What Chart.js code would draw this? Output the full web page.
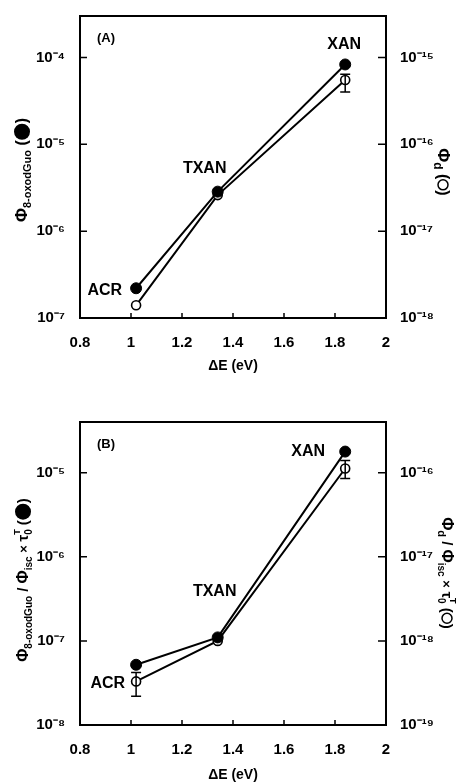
<!DOCTYPE html>
<html><head><meta charset="utf-8">
<script src="https://cdn.jsdelivr.net/npm/chart.js@4/dist/chart.umd.min.js"></script>
<style>
html,body{margin:0;padding:0;background:#fff;}
#wrap{width:457px;height:782px;position:relative;overflow:hidden;}
.c{position:absolute;left:0;width:457px;}
</style></head><body>
<div id="wrap">
<div class="c" style="top:0;height:390px"><canvas id="ca"></canvas></div>
<div class="c" style="top:390px;height:392px"><canvas id="cb"></canvas></div>
</div>
<script>
// ---- data ----
const compounds = ['ACR', 'TXAN', 'XAN'];
const deltaE = [1.02, 1.34, 1.84];
// Panel A
const a_oxodGuo = [2.2e-7, 2.85e-6, 8.3e-5];
const a_phiD = [1.4e-18, 2.6e-17, 5.5e-16];
const a_phiD_errLow = [null, null, 4.0e-16];
const a_phiD_errHigh = [null, null, 6.4e-16];
// Panel B
const b_oxodGuo = [5.2e-8, 1.1e-7, 1.78e-5];
const b_phiD = [3.3e-19, 1.0e-18, 1.12e-16];
const b_phiD_errLow = [2.2e-19, null, 8.5e-17];
const b_phiD_errHigh = [4.2e-19, null, 1.39e-16];
// ticks
const xTicks = [0.8, 1, 1.2, 1.4, 1.6, 1.8, 2];
const a_leftTicks = [1e-7, 1e-6, 1e-5, 1e-4];
const a_rightTicks = [1e-18, 1e-17, 1e-16, 1e-15];
const b_leftTicks = [1e-8, 1e-7, 1e-6, 1e-5];
const b_rightTicks = [1e-19, 1e-18, 1e-17, 1e-16];

const FAM = '"Liberation Sans", Arial, Helvetica, sans-serif';
const SUP = {'-':'\u207B','0':'\u2070','1':'\u00B9','2':'\u00B2','3':'\u00B3','4':'\u2074','5':'\u2075','6':'\u2076','7':'\u2077','8':'\u2078','9':'\u2079'};
function powLabel(v){
  const e = Math.round(Math.log10(v));
  return '10' + String(e).split('').map(c => SUP[c]).join('');
}

function drawRich(ctx, cx, cy, rot, segs){
  ctx.save();
  ctx.translate(cx, cy);
  ctx.rotate(rot);
  let total = 0;
  segs.forEach(s => {
    if (s.dot) { s._w = s.dot * 2 + 1; }
    else { ctx.font = 'bold ' + s.size + 'px ' + FAM; s._w = ctx.measureText(s.t).width; }
    if (!s.noAdvance) total += s._w;
  });
  let x = -total / 2;
  ctx.fillStyle = '#000'; ctx.strokeStyle = '#000';
  ctx.textAlign = 'left'; ctx.textBaseline = 'alphabetic';
  segs.forEach(s => {
    if (s.dot) {
      ctx.beginPath();
      ctx.arc(x + s._w / 2, 0, s.dot, 0, Math.PI * 2);
      if (s.fill) ctx.fill(); else { ctx.lineWidth = 1.5; ctx.stroke(); }
    } else {
      ctx.font = 'bold ' + s.size + 'px ' + FAM;
      ctx.fillText(s.t, x, 5 + (s.dy || 0));
    }
    if (!s.noAdvance) x += s._w;
  });
  ctx.restore();
}

const panelPlugin = {
  id: 'panel',
  afterDraw(chart) {
    const o = chart.options.plugins.panel;
    const ctx = chart.ctx;
    const a = chart.chartArea;
    const xs = chart.scales.x, yl = chart.scales.y, yr = chart.scales.y1;
    ctx.save();
    ctx.strokeStyle = '#000';
    ctx.lineWidth = 2;
    ctx.strokeRect(a.left, a.top, a.right - a.left, a.bottom - a.top);
    // inward tick marks
    ctx.lineWidth = 1.5;
    ctx.beginPath();
    yl.ticks.forEach(t => { const p = yl.getPixelForValue(t.value); ctx.moveTo(a.left, p); ctx.lineTo(a.left + 7, p); });
    yr.ticks.forEach(t => { const p = yr.getPixelForValue(t.value); ctx.moveTo(a.right, p); ctx.lineTo(a.right - 8, p); });
    xs.ticks.forEach(t => { if (t.value > xs.min && t.value < xs.max) { const p = xs.getPixelForValue(t.value); ctx.moveTo(p, a.bottom); ctx.lineTo(p, a.bottom - 5); } });
    ctx.stroke();
    // error bars on open series
    const ds = chart.data.datasets[1];
    ctx.lineWidth = 1.5;
    ctx.beginPath();
    ds.errLow.forEach((lo, i) => {
      const hi = ds.errHigh[i];
      if (lo == null || hi == null) return;
      const px = xs.getPixelForValue(ds.data[i].x);
      const p1 = yr.getPixelForValue(lo), p2 = yr.getPixelForValue(hi);
      ctx.moveTo(px, p1); ctx.lineTo(px, p2);
      ctx.moveTo(px - 5, p1); ctx.lineTo(px + 5, p1);
      ctx.moveTo(px - 5, p2); ctx.lineTo(px + 5, p2);
    });
    ctx.stroke();
    // compound labels
    ctx.fillStyle = '#000';
    ctx.font = 'bold 16px ' + FAM;
    ctx.textBaseline = 'middle';
    const d0 = chart.data.datasets[0];
    o.labels.forEach((L, i) => {
      const px = xs.getPixelForValue(d0.data[i].x);
      const py = yl.getPixelForValue(d0.data[i].y);
      ctx.textAlign = L.align;
      ctx.fillText(compounds[i], px + L.dx, py + L.dy);
    });
    // panel tag
    ctx.font = 'bold 13px ' + FAM;
    ctx.textAlign = 'left';
    ctx.fillText(o.tag, a.left + 17, a.top + o.tagDy);
    // axis titles
    drawRich(ctx, (a.left + a.right) / 2, o.xTitleY, 0, [{t: '\u0394E (eV)', size: 14}]);
    drawRich(ctx, o.leftX, o.leftY, -Math.PI / 2, o.leftTitle);
    drawRich(ctx, o.rightX, o.rightY, Math.PI / 2, o.rightTitle);
    ctx.restore();
  }
};

function makeChart(id, cfg){
  const tickFont = {family: FAM, size: 15, weight: 'bold'};
  return new Chart(document.getElementById(id), {
    type: 'line',
    data: {
      datasets: [
        {
          label: 'filled', yAxisID: 'y',
          data: deltaE.map((x, i) => ({x: x, y: cfg.left[i]})),
          borderColor: '#000', borderWidth: 2, backgroundColor: '#000',
          pointRadius: 5.5, pointBackgroundColor: '#000', pointBorderColor: '#000', pointBorderWidth: 1,
          tension: 0, order: 1
        },
        {
          label: 'open', yAxisID: 'y1',
          data: deltaE.map((x, i) => ({x: x, y: cfg.right[i]})),
          errLow: cfg.errLow, errHigh: cfg.errHigh,
          borderColor: '#000', borderWidth: 2,
          pointRadius: 4.5, pointBackgroundColor: '#fff', pointBorderColor: '#000', pointBorderWidth: 1.6,
          tension: 0, order: 2
        }
      ]
    },
    options: {
      responsive: true, maintainAspectRatio: false, animation: false,
      layout: {padding: {left: 0, right: 0, top: cfg.padTop, bottom: 0}},
      plugins: {
        legend: {display: false}, tooltip: {enabled: false},
        panel: cfg.panel
      },
      scales: {
        x: {
          type: 'linear', position: 'bottom', min: 0.8, max: 2,
          afterBuildTicks: s => { s.ticks = xTicks.map(v => ({value: v})); },
          afterFit: s => { s.height = cfg.xHeight; },
          ticks: {callback: v => String(v), font: tickFont, color: '#000', padding: 8, maxRotation: 0, autoSkip: false},
          grid: {display: false}, border: {display: false}
        },
        y: {
          type: 'logarithmic', position: 'left', min: cfg.lmin, max: cfg.lmax,
          afterBuildTicks: s => { s.ticks = cfg.lticks.map(v => ({value: v})); },
          afterFit: s => { s.width = 80; },
          ticks: {callback: v => powLabel(v), font: tickFont, color: '#000', padding: 7, autoSkip: false},
          grid: {display: false}, border: {display: false}
        },
        y1: {
          type: 'logarithmic', position: 'right', min: cfg.rmin, max: cfg.rmax,
          afterBuildTicks: s => { s.ticks = cfg.rticks.map(v => ({value: v})); },
          afterFit: s => { s.width = 71; },
          ticks: {callback: v => powLabel(v), font: tickFont, color: '#000', padding: 6, autoSkip: false},
          grid: {display: false}, border: {display: false}
        }
      }
    },
    plugins: [panelPlugin]
  });
}

makeChart('ca', {
  left: a_oxodGuo, right: a_phiD, errLow: a_phiD_errLow, errHigh: a_phiD_errHigh,
  lmin: 1e-7, lmax: 3.0e-4, rmin: 1e-18, rmax: 3.0e-15,
  lticks: a_leftTicks, rticks: a_rightTicks,
  padTop: 13, xHeight: 72,
  panel: {
    tag: '(A)', tagDy: 22, xTitleY: 365,
    labels: [{align: 'right', dx: -14, dy: 2}, {align: 'center', dx: -13, dy: -23}, {align: 'center', dx: -1, dy: -20}],
    leftX: 22, leftY: 170,
    leftTitle: [{t: '\u03A6', size: 17}, {t: '8-oxodGuo', size: 11, dy: 4}, {t: ' (', size: 16}, {dot: 8, fill: true}, {t: ')', size: 16}],
    rightX: 443, rightY: 172,
    rightTitle: [{t: '\u03A6', size: 17}, {t: 'd', size: 12, dy: 4}, {t: ' (', size: 16}, {dot: 5, fill: false}, {t: ')', size: 16}]
  }
});

makeChart('cb', {
  left: b_oxodGuo, right: b_phiD, errLow: b_phiD_errLow, errHigh: b_phiD_errHigh,
  lmin: 1e-8, lmax: 4.0e-5, rmin: 1e-19, rmax: 4.0e-16,
  lticks: b_leftTicks, rticks: b_rightTicks,
  padTop: 32, xHeight: 57,
  panel: {
    tag: '(B)', tagDy: 22, xTitleY: 384,
    labels: [{align: 'right', dx: -11, dy: 19}, {align: 'center', dx: -3, dy: -46}, {align: 'center', dx: -37, dy: 0}],
    leftX: 23, leftY: 190,
    leftTitle: [{t: '\u03A6', size: 16}, {t: '8-oxodGuo', size: 10, dy: 4}, {t: ' / ', size: 15}, {t: '\u03A6', size: 16}, {t: 'isc', size: 10, dy: 4},
                {t: ' \u00D7 ', size: 13}, {t: '\u03C4', size: 15}, {t: '0', size: 10, dy: 4, noAdvance: true}, {t: 'T', size: 9, dy: -8},
                {t: ' (', size: 15}, {dot: 8, fill: true}, {t: ')', size: 15}],
    rightX: 447, rightY: 183,
    rightTitle: [{t: '\u03A6', size: 16}, {t: 'd', size: 11, dy: 4}, {t: ' / ', size: 15}, {t: '\u03A6', size: 16}, {t: 'isc', size: 10, dy: 4},
                 {t: ' \u00D7 ', size: 13}, {t: '\u03C4', size: 15}, {t: '0', size: 10, dy: 4, noAdvance: true}, {t: 'T', size: 9, dy: -8},
                 {t: ' (', size: 15}, {dot: 5, fill: false}, {t: ')', size: 15}]
  }
});
</script>
</body></html>
